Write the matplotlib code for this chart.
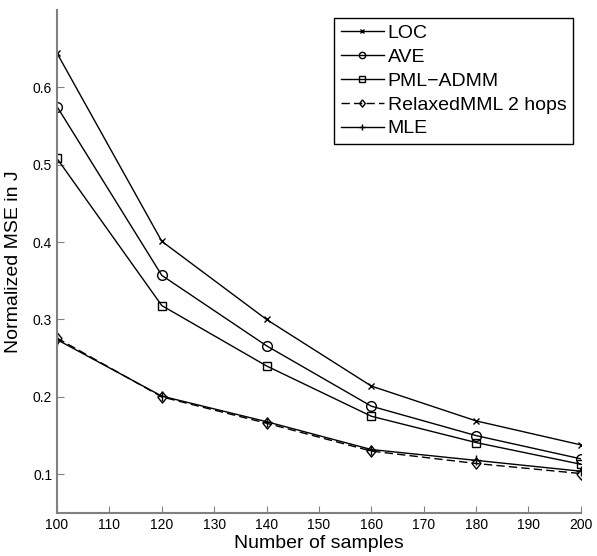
import matplotlib
matplotlib.use("Agg")
import matplotlib.pyplot as plt

plt.rcParams['font.family'] = ['Liberation Sans', 'DejaVu Sans']

# data
samples = [100, 120, 140, 160, 180, 200]
loc = [0.644, 0.401, 0.300, 0.214, 0.169, 0.138]
ave = [0.575, 0.357, 0.266, 0.188, 0.150, 0.120]
pml_admm = [0.508, 0.318, 0.240, 0.175, 0.141, 0.113]
relaxed = [0.276, 0.200, 0.166, 0.130, 0.114, 0.101]
mle = [0.274, 0.201, 0.168, 0.132, 0.118, 0.104]

# matlab style diamond, a bit taller than wide
diamond = [(0, 1), (0.8, 0), (0, -1), (-0.8, 0), (0, 1)]

fig = plt.figure(figsize=(5.97, 5.56), dpi=100)
ax = fig.add_axes([0.0955, 0.0773, 0.8775, 0.905])

kw = dict(color='black', lw=1.0, markerfacecolor='none', markeredgewidth=1.0)
ax.plot(samples, loc, marker='x', ms=5, label='LOC', **kw)
ax.plot(samples, ave, marker='o', ms=7, label='AVE', **kw)
ax.plot(samples, pml_admm, marker='s', ms=6, label='PML\u2212ADMM', **kw)
ax.plot(samples, relaxed, marker=diamond, ms=8, ls=(0, (6, 3)),
        label='RelaxedMML 2 hops', **kw)
ax.plot(samples, mle, marker='+', ms=7, label='MLE', **kw)

ax.set_xlim(100, 200)
ax.set_ylim(0.05, 0.7)
ax.set_xticks(range(100, 201, 10))
ax.set_yticks([0.1, 0.2, 0.3, 0.4, 0.5, 0.6])
ax.tick_params(direction='in', length=5, color='#808080', labelsize=10)

for side in ['top', 'right']:
    ax.spines[side].set_visible(False)
for side in ['left', 'bottom']:
    ax.spines[side].set_color('#808080')
    ax.spines[side].set_linewidth(1.5)

ax.set_xlabel('Number of samples', fontsize=14, labelpad=2)
ax.set_ylabel('Normalized MSE in J', fontsize=14, labelpad=8)

leg = ax.legend(loc='upper right', fontsize=14, handlelength=2.2,
                handletextpad=0.2, labelspacing=0.32, borderpad=0.35,
                borderaxespad=0.4, fancybox=False, framealpha=1,
                markerscale=0.65)
leg.get_frame().set_edgecolor('black')
leg.get_frame().set_linewidth(1.0)

fig.savefig('out.png', dpi=100)
